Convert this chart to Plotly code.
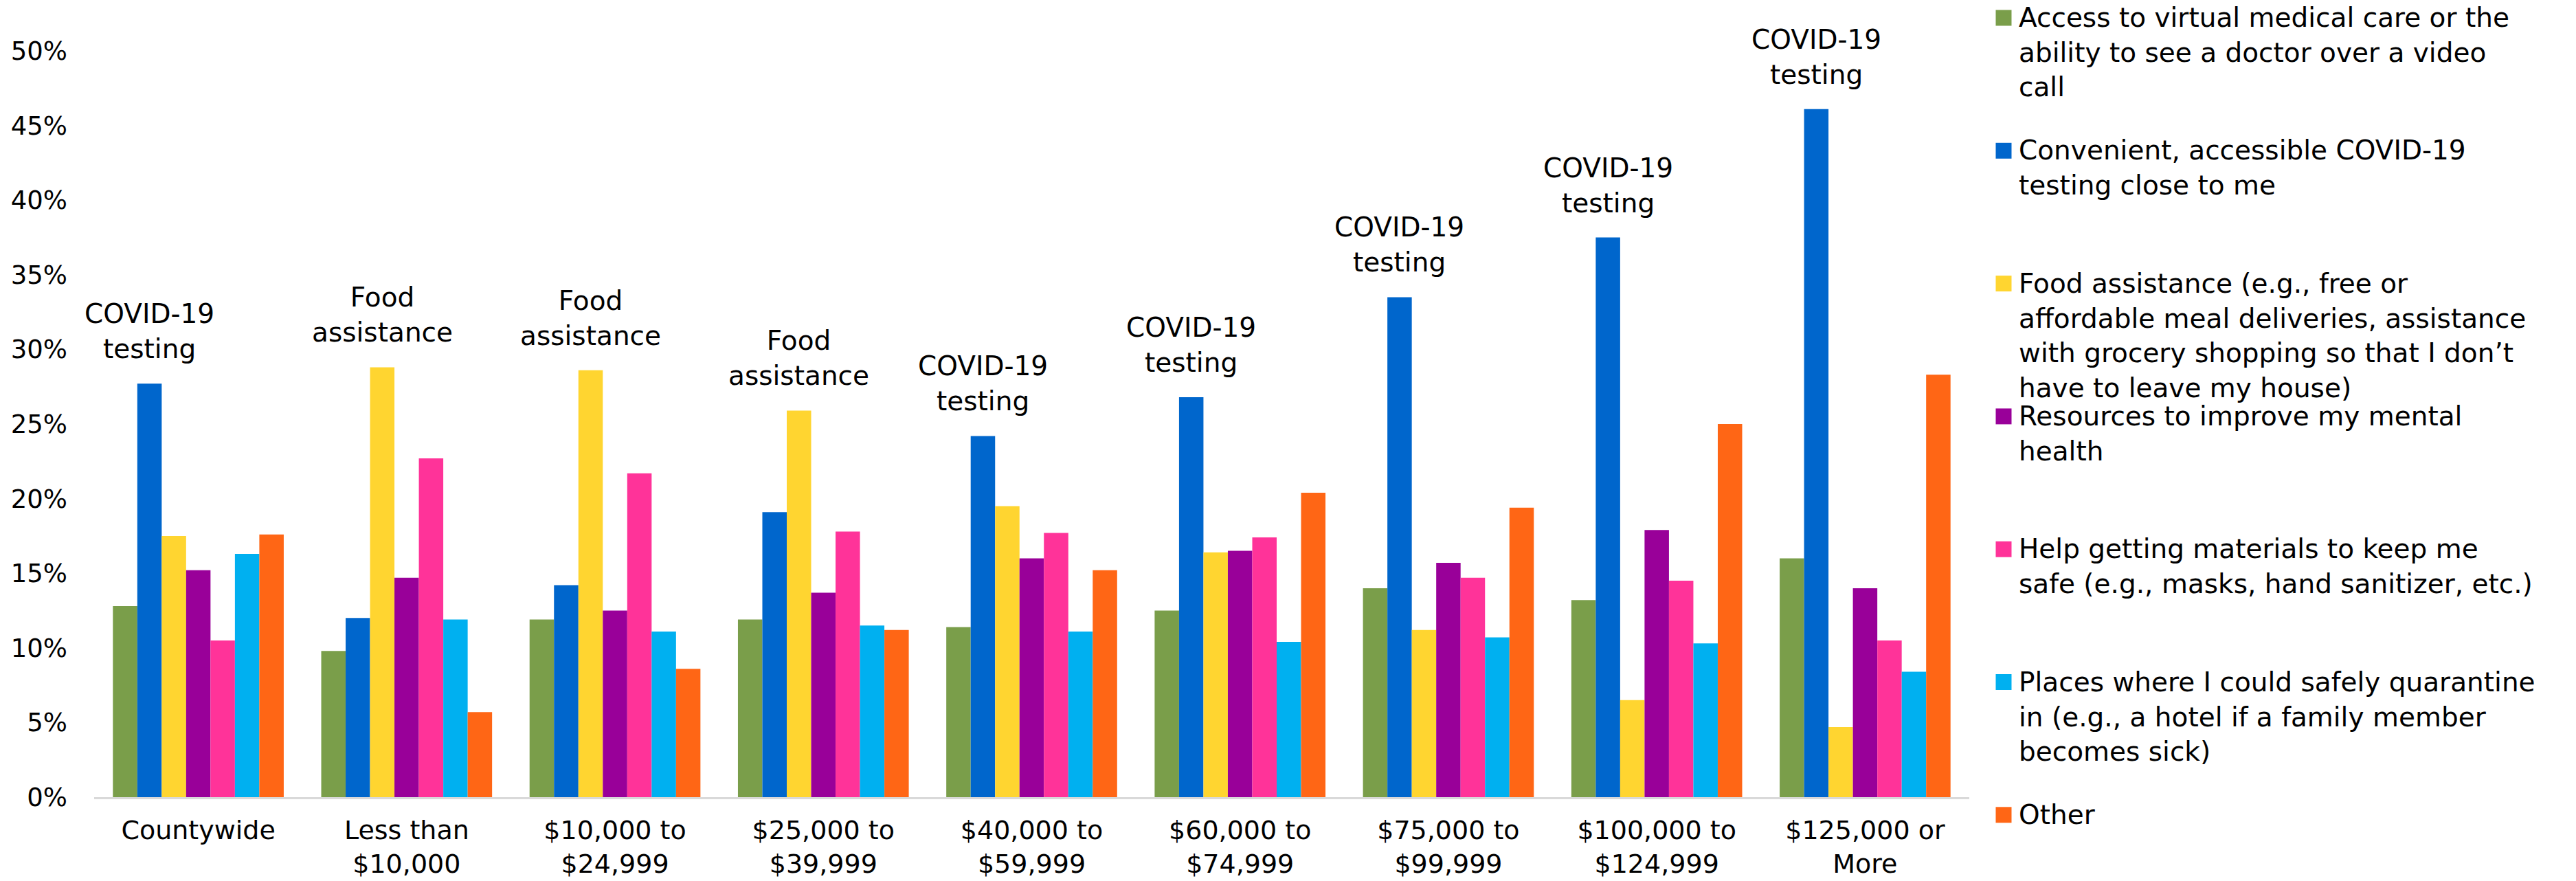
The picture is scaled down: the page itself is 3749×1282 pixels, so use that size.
import plotly.graph_objects as go

categories = ["Countywide", "Less than<br>$10,000", "$10,000 to<br>$24,999", "$25,000 to<br>$39,999",
              "$40,000 to<br>$59,999", "$60,000 to<br>$74,999", "$75,000 to<br>$99,999",
              "$100,000 to<br>$124,999", "$125,000 or<br>More"]

series_names = [
    "Access to virtual medical care or the<br>ability to see a doctor over a video<br>call",
    "Convenient, accessible COVID-19<br>testing close to me",
    "Food assistance (e.g., free or<br>affordable meal deliveries, assistance<br>with grocery shopping so that I don’t<br>have to leave my house)",
    "Resources to improve my mental<br>health",
    "Help getting materials to keep me<br>safe (e.g., masks, hand sanitizer, etc.)",
    "Places where I could safely quarantine<br>in (e.g., a hotel if a family member<br>becomes sick)",
    "Other",
]

virtual_care = [12.8, 9.8, 11.9, 11.9, 11.4, 12.5, 14.0, 13.2, 16.0]
covid_testing = [27.7, 12.0, 14.2, 19.1, 24.2, 26.8, 33.5, 37.5, 46.1]
food_assistance = [17.5, 28.8, 28.6, 25.9, 19.5, 16.4, 11.2, 6.5, 4.7]
mental_health = [15.2, 14.7, 12.5, 13.7, 16.0, 16.5, 15.7, 17.9, 14.0]
safety_materials = [10.5, 22.7, 21.7, 17.8, 17.7, 17.4, 14.7, 14.5, 10.5]
quarantine_places = [16.3, 11.9, 11.1, 11.5, 11.1, 10.4, 10.7, 10.3, 8.4]
other = [17.6, 5.7, 8.6, 11.2, 15.2, 20.4, 19.4, 25.0, 28.3]

top_labels = ["COVID-19<br>testing", "Food<br>assistance", "Food<br>assistance", "Food<br>assistance",
              "COVID-19<br>testing", "COVID-19<br>testing", "COVID-19<br>testing",
              "COVID-19<br>testing", "COVID-19<br>testing"]

colors = ["#7A9E4A", "#0066CC", "#FFD530", "#990099", "#FF3399", "#00B0F0", "#FF6615"]

all_series = [virtual_care, covid_testing, food_assistance, mental_health,
              safety_materials, quarantine_places, other]

W, H = 3749, 1282
L, R, T, B = 137, 883, 74, 122
BARGAP = 0.18

fig = go.Figure()
for name, vals, col in zip(series_names, all_series, colors):
    fig.add_trace(go.Bar(x=categories, y=[v / 100 for v in vals], name=name,
                         marker=dict(color=col, line=dict(width=0)), showlegend=False))

n = len(all_series)
annotations = []
for k, cat in enumerate(categories):
    vals = [s[k] for s in all_series]
    imax = max(range(n), key=lambda i: vals[i])
    xpos = k + (imax - (n - 1) / 2) * (1 - BARGAP) / n
    annotations.append(dict(x=xpos, y=vals[imax] / 100, xref="x", yref="y", text=top_labels[k],
                            showarrow=False, xanchor="center", yanchor="bottom", yshift=26,
                            font=dict(family="DejaVu Sans", size=39, color="#000000")))

plot_w = W - L - R
plot_h = H - T - B

def px(x):
    return (x - L) / plot_w

def py(y):
    return (H - B - y) / plot_h

shapes = []
item_spacing = 193.3
first_center = 26
for i, (name, col) in enumerate(zip(series_names, colors)):
    cy = first_center + i * item_spacing
    shapes.append(dict(type="rect", xref="paper", yref="paper",
                       xsizemode="pixel", ysizemode="pixel",
                       xanchor=px(2916), yanchor=py(cy), x0=-11.5, x1=11.5, y0=-11.5, y1=11.5,
                       fillcolor=col, line=dict(width=0)))
    annotations.append(dict(x=px(2936), y=py(cy - 25), xref="paper", yref="paper", text=name,
                            showarrow=False, xanchor="left", yanchor="top", align="left",
                            font=dict(family="DejaVu Sans", size=39, color="#000000")))

fig.update_layout(
    width=W, height=H,
    margin=dict(l=L, r=R, t=T, b=B, autoexpand=False),
    paper_bgcolor="white", plot_bgcolor="white",
    barmode="group", bargap=BARGAP, bargroupgap=0,
    showlegend=False,
    annotations=annotations,
    shapes=shapes,
    xaxis=dict(range=[-0.5, len(categories) - 0.5], autorange=False,
               showgrid=False, showline=True, linecolor="#D9D9D9", linewidth=3,
               ticks="", ticklabelstandoff=12,
               tickfont=dict(family="DejaVu Sans", size=38, color="#000000")),
    yaxis=dict(range=[0, 0.5], autorange=False, dtick=0.05, tickformat=".0%", showgrid=False,
               zeroline=False, showline=False, ticks="", ticklabelstandoff=38,
               tickfont=dict(family="DejaVu Sans", size=37, color="#000000")),
)

fig.write_html("out.html", config={"displayModeBar": False},
               post_script="document.body.style.margin='0px';")
